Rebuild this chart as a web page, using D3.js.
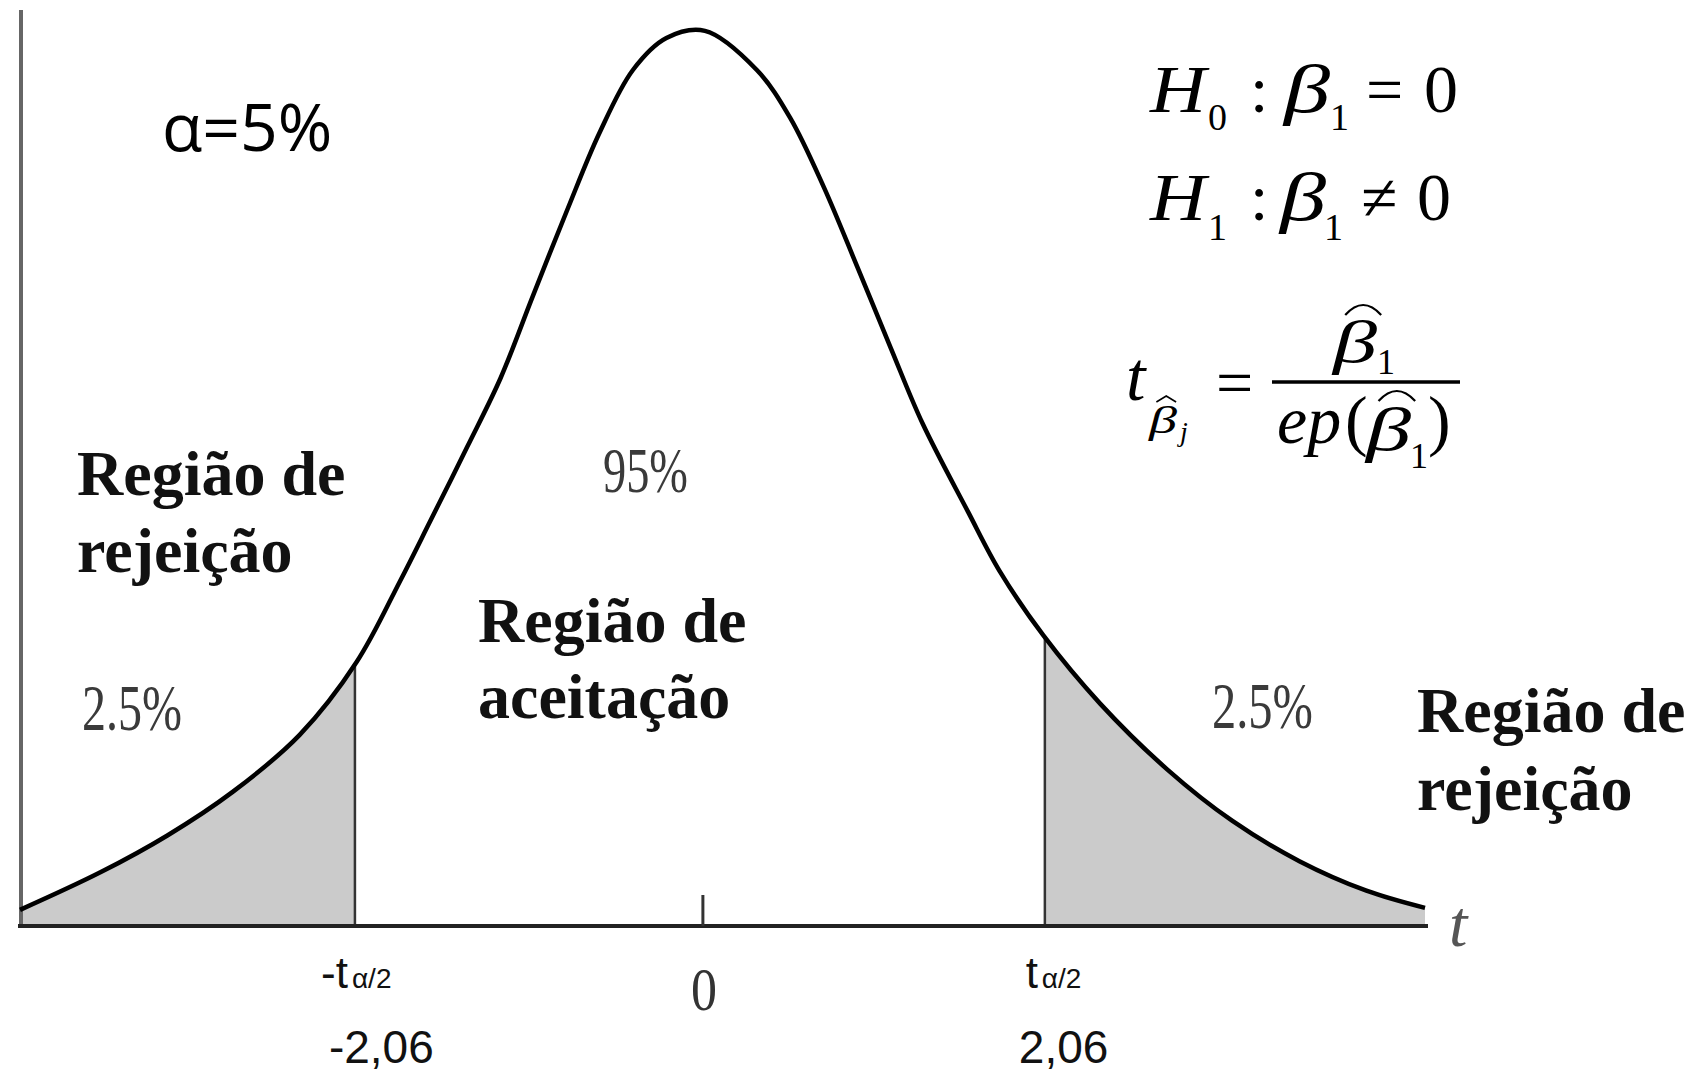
<!DOCTYPE html>
<html><head><meta charset="utf-8">
<script src="https://cdn.jsdelivr.net/npm/d3@7"></script>
<style>body{margin:0;background:#fff}svg{display:block}</style>
</head><body><svg id="chart" width="1694" height="1074"></svg>
<script>
// ---- data ----
const curveT = [-4.06,-3.58,-3.18,-2.79,-2.39,-2.05,-1.79,-1.61,-1.39,-1.19,-1.00,-0.79,-0.60,-0.40,-0.20,
                 0.03, 0.34, 0.54, 0.74, 0.94, 1.14, 1.33, 1.60, 1.79, 2.05, 2.39, 2.79, 3.18, 3.58, 3.98, 4.33];
const curveDensity = [0.0072,0.0240,0.0405,0.0600,0.0855,0.1181,0.1544,0.1812,0.2143,0.2452,0.2814,0.3208,0.3548,0.3830,0.3973,
                      0.4005,0.3830,0.3615,0.3306,0.2949,0.2586,0.2248,0.1855,0.1588,0.1301,0.0995,0.0701,0.0470,0.0290,0.0158,0.0081];
const criticalValues = [-2.06, 2.06];
const criticalSymbols = ["-t", "t"];
const criticalSubscript = "α/2";
const criticalValueLabels = ["-2,06", "2,06"];
const tailShares = ["2.5%", "2.5%"];
const centerShare = "95%";
const centerTickLabel = "0";
const alphaText = "α=5%";
const rejectLines = ["Região de", "rejeição"];
const acceptLines = ["Região de", "aceitação"];
const axisName = "t";

// ---- drawing ----
const svg = d3.select("#chart");
const pts = curveT.map((t, i) => ({t, d: curveDensity[i]}));
const x = d3.scaleLinear().domain([curveT[0], curveT[curveT.length - 1]]).range([20, 1425]);
const y = d3.scaleLinear().domain([0, 0.4]).range([926, 32]);
const crv = d3.curveCatmullRom.alpha(0.5);
const line = d3.line().x(d => x(d.t)).y(d => y(d.d)).curve(crv);
const area = d3.area().x(d => x(d.t)).y0(y(0)).y1(d => y(d.d)).curve(crv);

svg.append("clipPath").attr("id", "under").append("path").attr("d", area(pts));

// shaded tails
const tails = [[x.domain()[0], criticalValues[0]], [criticalValues[1], x.domain()[1]]];
svg.selectAll("rect.tail").data(tails).join("rect").attr("class", "tail")
  .attr("x", d => x(d[0])).attr("width", d => x(d[1]) - x(d[0]))
  .attr("y", 0).attr("height", y(0))
  .attr("fill", "#cbcbcb").attr("clip-path", "url(#under)");

// cutoff lines
svg.selectAll("line.cut").data(criticalValues).join("line").attr("class", "cut")
  .attr("x1", d => x(d)).attr("x2", d => x(d)).attr("y1", y(0)).attr("y2", 0)
  .attr("stroke", "#333").attr("stroke-width", 2.5).attr("clip-path", "url(#under)");

// left vertical axis
svg.append("line").attr("x1", 21).attr("x2", 21).attr("y1", 10).attr("y2", y(0))
  .attr("stroke", "#666").attr("stroke-width", 4);

// baseline
svg.append("line").attr("x1", x.range()[0] - 2).attr("x2", x.range()[1] + 3)
  .attr("y1", y(0)).attr("y2", y(0)).attr("stroke", "#222").attr("stroke-width", 4);

// center tick
svg.append("line").attr("x1", x(0) + 3).attr("x2", x(0) + 3).attr("y1", y(0)).attr("y2", y(0) - 31)
  .attr("stroke", "#333").attr("stroke-width", 3);

// curve
svg.append("path").attr("d", line(pts)).attr("fill", "none")
  .attr("stroke", "#000").attr("stroke-width", 4.5).attr("stroke-linejoin", "round");

// ---- texts ----
const serif = "'Liberation Serif','Times New Roman',serif";
const sans = "'Liberation Sans',Arial,sans-serif";

svg.append("text").attr("x", 162).attr("y", 151).attr("font-family", "'Open Sans','Noto Sans',sans-serif")
  .attr("font-size", 66).attr("fill", "#000").text(alphaText);

function bold2(lines, x0, y0, y1) {
  svg.append("text").attr("x", x0).attr("y", y0).attr("font-family", serif).attr("font-weight", "bold")
    .attr("font-size", 64).attr("fill", "#111").text(lines[0]);
  svg.append("text").attr("x", x0).attr("y", y1).attr("font-family", serif).attr("font-weight", "bold")
    .attr("font-size", 64).attr("fill", "#111").text(lines[1]);
}
bold2(rejectLines, 77, 495, 572);
bold2(acceptLines, 478, 642, 718);
bold2(rejectLines, 1417, 732, 810);

function grayPct(txt, x0, yb, size, len) {
  svg.append("text").attr("x", x0).attr("y", yb).attr("font-family", serif).attr("font-size", size)
    .attr("fill", "#3a3a3a").attr("textLength", len).attr("lengthAdjust", "spacingAndGlyphs").text(txt);
}
grayPct(centerShare, 603, 492, 64, 85);
grayPct(tailShares[0], 82, 730, 66, 100);
grayPct(tailShares[1], 1212, 728, 66, 101);

// center "0"
svg.append("text").attr("x", x(0) + 4).attr("y", 1010).attr("text-anchor", "middle")
  .attr("font-family", serif).attr("font-size", 62).attr("fill", "#333")
  .attr("textLength", 26).attr("lengthAdjust", "spacingAndGlyphs").text(centerTickLabel);

// axis name t
svg.append("text").attr("x", 1449).attr("y", 946).attr("font-family", serif).attr("font-style", "italic")
  .attr("font-size", 66).attr("fill", "#555").text(axisName);

// critical symbols
criticalValues.forEach((c, i) => {
  svg.append("text").attr("x", x(c) - 7).attr("y", 988).attr("font-family", sans).attr("fill", "#111")
    .attr("text-anchor", "end").attr("font-size", 44).text(criticalSymbols[i]);
  svg.append("text").attr("x", x(c) - 3).attr("y", 988).attr("font-family", sans).attr("fill", "#111")
    .attr("font-size", 28).text(criticalSubscript);
  svg.append("text").attr("x", x(c) - 26).attr("y", 1063).attr("font-family", sans)
    .attr("font-size", 46).attr("fill", "#111").text(criticalValueLabels[i]);
});

// ---- formulas ----
const F = svg.append("g").attr("font-family", serif).attr("fill", "#000");
function t(str, x0, yb, size, italic, len) {
  const e = F.append("text").attr("x", x0).attr("y", yb).attr("font-size", size)
    .attr("font-style", italic ? "italic" : "normal").text(str);
  if (len) e.attr("textLength", len).attr("lengthAdjust", "spacingAndGlyphs");
  return e;
}
// H0 : beta1 = 0
t("H", 1150, 112, 68, true, 56); t("0", 1208, 130, 38, false); t(":", 1250, 112, 66, false);
t("β", 1284, 112, 68, true, 46); t("1", 1330, 130, 38, false); t("=", 1366, 112, 66, false);
t("0", 1424, 112, 68, false);
// H1 : beta1 != 0
t("H", 1150, 220, 68, true, 56); t("1", 1208, 240, 38, false); t(":", 1250, 220, 66, false);
t("β", 1280, 220, 68, true, 46); t("1", 1324, 240, 38, false); t("≠", 1361, 220, 66, false);
t("0", 1417, 220, 68, false);
// t statistic
t("t", 1126, 400, 70, true);
const bj = t("β", 1149, 433, 38, true, 28);
t("j", 1180, 441, 28, true);
t("=", 1216, 405, 66, false);
F.append("line").attr("x1", 1272).attr("x2", 1460).attr("y1", 382).attr("y2", 382)
  .attr("stroke", "#000").attr("stroke-width", 3.5);
const bn = t("β", 1333, 362, 60, true, 44);
t("1", 1377, 374, 36, false);
t("ep", 1277, 443, 68, true);
t("(", 1345, 443, 68, false);
const bd = t("β", 1366, 450, 62, true, 45);
t("1", 1410, 468, 36, false);
t(")", 1428, 443, 68, false);

function hat(el, wide) {
  const b = el.node().getBBox();
  const x0 = b.x + b.width * 0.3, x1 = b.x + b.width + (wide ? 4 : -1);
  const yb = b.y + (wide ? -4 : -3), h = wide ? 10 : 6;
  if (wide) {
    F.append("path").attr("d", `M${x0},${yb + h} Q${(x0 + x1) / 2},${yb - h} ${x1},${yb + h}`)
      .attr("fill", "none").attr("stroke", "#000").attr("stroke-width", 2.2);
  } else {
    F.append("path").attr("d", `M${x0},${yb + h} L${(x0 + x1) / 2},${yb} L${x1},${yb + h}`)
      .attr("fill", "none").attr("stroke", "#000").attr("stroke-width", 1.6);
  }
}
hat(bj, false); hat(bn, true); hat(bd, true);
</script></body></html>
